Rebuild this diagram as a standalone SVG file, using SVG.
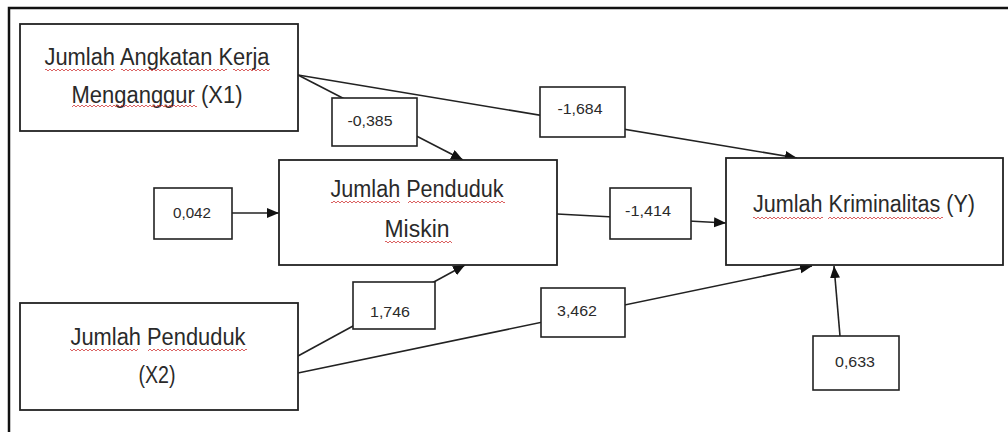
<svg xmlns="http://www.w3.org/2000/svg" width="1008" height="432" viewBox="0 0 1008 432">
  <defs>
    <marker id="arr" markerWidth="13" markerHeight="11" refX="12" refY="5" orient="auto" markerUnits="userSpaceOnUse">
      <path d="M0,0 L12,5 L0,10 z" fill="#111"/>
    </marker>
    <pattern id="squig" patternUnits="userSpaceOnUse" x="0" y="0" width="4" height="4">
      <path d="M0,3 L2,1 L4,3" fill="none" stroke="#d23a3a" stroke-width="0.8"/>
    </pattern>
  </defs>
  <style>
    .box { fill: #fff; stroke: #222; stroke-width: 1.8; }
    .lbl { fill: #fff; stroke: #222; stroke-width: 1.6; }
    .conn { fill: none; stroke: #222; stroke-width: 1.6; marker-end: url(#arr); }
    .t { font-family: "Liberation Sans", Arial, sans-serif; font-size: 23px; fill: #2a2a2a; text-anchor: middle; }
    .n { font-family: "Liberation Sans", Arial, sans-serif; font-size: 15.5px; fill: #2a2a2a; text-anchor: middle; }
    .sq { fill: url(#squig); }
  </style>
  <rect width="1008" height="432" fill="#fff"/>
  <!-- frame -->
  <path d="M9,432 L9,8 L1008,8" fill="none" stroke="#111" stroke-width="2.5"/>

  <g id="connectors">
    <line class="conn" x1="298" y1="75" x2="463" y2="160"/>
    <line class="conn" x1="298" y1="75" x2="797" y2="158"/>
    <line class="conn" x1="557" y1="214" x2="726" y2="223"/>
    <line class="conn" x1="298" y1="356" x2="465" y2="265"/>
    <line class="conn" x1="298" y1="373" x2="812" y2="266"/>
    <line class="conn" x1="840" y1="336" x2="834" y2="266"/>
    <line class="conn" x1="232" y1="213" x2="279" y2="213"/>
  </g>

  <g id="node-x1">
    <rect class="box" x="20" y="24" width="278" height="107"/>
    <text class="t" x="157" y="65" textLength="225" lengthAdjust="spacingAndGlyphs">Jumlah Angkatan Kerja</text>
    <text class="t" x="157" y="103" textLength="171" lengthAdjust="spacingAndGlyphs">Menganggur (X1)</text>
    <rect class="sq" x="45" y="68" width="70" height="4"/>
    <rect class="sq" x="121" y="68" width="106" height="4"/>
    <rect class="sq" x="233" y="68" width="37" height="4"/>
    <rect class="sq" x="72" y="104" width="125" height="4"/>
  </g>

  <g id="node-miskin">
    <rect class="box" x="279" y="160" width="278" height="105"/>
    <text class="t" x="417" y="197" textLength="173" lengthAdjust="spacingAndGlyphs">Jumlah Penduduk</text>
    <text class="t" x="417" y="237" textLength="65" lengthAdjust="spacingAndGlyphs">Miskin</text>
    <rect class="sq" x="331" y="200" width="69" height="4"/>
    <rect class="sq" x="408" y="200" width="97" height="4"/>
    <rect class="sq" x="385" y="240" width="67" height="4"/>
  </g>

  <g id="node-y">
    <rect class="box" x="726" y="158" width="277" height="107"/>
    <text class="t" x="864" y="212" textLength="222" lengthAdjust="spacingAndGlyphs">Jumlah Kriminalitas (Y)</text>
    <rect class="sq" x="753" y="216" width="70" height="4"/>
    <rect class="sq" x="828" y="216" width="115" height="4"/>
  </g>

  <g id="node-x2">
    <rect class="box" x="20" y="303" width="278" height="107"/>
    <text class="t" x="158" y="345" textLength="175" lengthAdjust="spacingAndGlyphs">Jumlah Penduduk</text>
    <text class="t" x="157" y="383" textLength="37" lengthAdjust="spacingAndGlyphs">(X2)</text>
    <rect class="sq" x="70" y="348" width="68" height="4"/>
    <rect class="sq" x="148" y="348" width="99" height="4"/>
  </g>

  <g id="label-0385">
    <rect class="lbl" x="332" y="98" width="85" height="48"/>
    <text class="n" x="370" y="126" textLength="45" lengthAdjust="spacingAndGlyphs">-0,385</text>
  </g>
  <g id="label-1684">
    <rect class="lbl" x="540" y="87" width="85" height="50"/>
    <text class="n" x="580" y="114" textLength="45" lengthAdjust="spacingAndGlyphs">-1,684</text>
  </g>
  <g id="label-1414">
    <rect class="lbl" x="610" y="188" width="81" height="51"/>
    <text class="n" x="648" y="216" textLength="46" lengthAdjust="spacingAndGlyphs">-1,414</text>
  </g>
  <g id="label-0042">
    <rect class="lbl" x="154" y="188" width="78" height="51"/>
    <text class="n" x="192" y="218" textLength="38" lengthAdjust="spacingAndGlyphs">0,042</text>
  </g>
  <g id="label-1746">
    <rect class="lbl" x="353" y="282" width="82" height="47"/>
    <text class="n" x="390" y="317" textLength="40" lengthAdjust="spacingAndGlyphs">1,746</text>
  </g>
  <g id="label-3462">
    <rect class="lbl" x="541" y="288" width="84" height="49"/>
    <text class="n" x="577" y="316" textLength="40" lengthAdjust="spacingAndGlyphs">3,462</text>
  </g>
  <g id="label-0633">
    <rect class="lbl" x="813" y="336" width="86" height="54"/>
    <text class="n" x="855" y="367" textLength="40" lengthAdjust="spacingAndGlyphs">0,633</text>
  </g>
</svg>
